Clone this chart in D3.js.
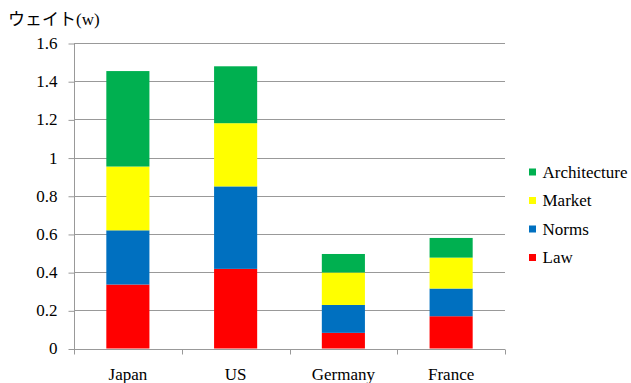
<!DOCTYPE html>
<html>
<head>
<meta charset="utf-8">
<script src="https://cdn.jsdelivr.net/npm/d3@7"></script>
<style>
  body { margin: 0; background: #fff; }
</style>
</head>
<body>
<div id="chart"></div>
<script>
// data
const countries = ["Japan", "US", "Germany", "France"];
const series = ["Law", "Norms", "Market", "Architecture"];
const law = [0.335, 0.417, 0.082, 0.169];
const norms = [0.284, 0.432, 0.146, 0.145];
const market = [0.334, 0.331, 0.170, 0.162];
const architecture = [0.500, 0.298, 0.097, 0.103];
const yTicks = [0, 0.2, 0.4, 0.6, 0.8, 1, 1.2, 1.4, 1.6];
const colors = {Law: "#ff0000", Norms: "#0070c0", Market: "#ffff00", Architecture: "#00b050"};

const FONT = '"Liberation Serif", "Noto Sans CJK JP", serif';
const FS = "17px";

const rows = countries.map((c, i) => ({
  country: c, Law: law[i], Norms: norms[i], Market: market[i], Architecture: architecture[i]
}));

const W = 631, H = 383;
const plot = {left: 74, right: 505, top: 43, bottom: 348.5};

const svg = d3.select("#chart").append("svg")
  .attr("width", W).attr("height", H);

const x = d3.scaleBand().domain(countries).range([plot.left, plot.right]);
const y = d3.scaleLinear().domain([0, 1.6]).range([plot.bottom, plot.top]);

// gridlines
svg.append("g").selectAll("line")
  .data(yTicks.filter(d => d > 0))
  .join("line")
    .attr("x1", plot.left).attr("x2", plot.right)
    .attr("y1", d => Math.round(y(d)) + 0.5).attr("y2", d => Math.round(y(d)) + 0.5)
    .attr("stroke", "#999").attr("stroke-width", 1);

// y axis
const yAxis = svg.append("g")
  .attr("transform", `translate(${plot.left + 0.5},0)`)
  .call(d3.axisLeft(y).tickValues(yTicks).tickSize(6).tickPadding(11).tickFormat(d3.format("")));
yAxis.attr("font-family", null);
yAxis.selectAll("line, path").attr("stroke", "#999");
yAxis.selectAll(".tick line").attr("transform", "translate(0,0.5)");
yAxis.select(".domain").attr("d", `M0,${plot.top}V${plot.bottom + 1}`);
yAxis.selectAll("text").style("font-family", FONT).style("font-size", FS).attr("fill", "#000");

// x axis
const xAxis = svg.append("g")
  .attr("transform", `translate(0,${Math.round(plot.bottom) + 0.5})`)
  .call(d3.axisBottom(x).tickSize(0).tickPadding(18));
xAxis.attr("font-family", null);
xAxis.select(".domain").attr("stroke", "#999").attr("d", `M${plot.left},0H${plot.right}`);
xAxis.selectAll("text").style("font-family", FONT).style("font-size", FS).attr("fill", "#000");
xAxis.append("g").selectAll("line")
  .data(countries.concat(["end"]))
  .join("line")
    .attr("x1", (d, i) => Math.round(plot.left + i * x.step()) + 0.5)
    .attr("x2", (d, i) => Math.round(plot.left + i * x.step()) + 0.5)
    .attr("y1", 0).attr("y2", 5)
    .attr("stroke", "#999");

// stacked bars
const stack = d3.stack().keys(series)(rows);
const barW = x.step() * 0.4;
svg.append("g").selectAll("g")
  .data(stack)
  .join("g")
    .attr("fill", d => colors[d.key])
  .selectAll("rect")
  .data(d => d)
  .join("rect")
    .attr("x", d => x(d.data.country) + x.bandwidth() / 2 - barW / 2)
    .attr("width", barW)
    .attr("y", d => y(d[1]))
    .attr("height", d => y(d[0]) - y(d[1]));

// legend
const legendItems = series.slice().reverse();
const legend = svg.append("g").attr("transform", "translate(529,172)");
const li = legend.selectAll("g")
  .data(legendItems)
  .join("g")
    .attr("transform", (d, i) => `translate(0,${i * 28.5})`);
li.append("rect")
  .attr("x", 0).attr("y", -3.5).attr("width", 7).attr("height", 7)
  .attr("fill", d => colors[d]);
li.append("text")
  .attr("x", 13.5).attr("y", 0).attr("dy", "0.33em")
  .style("font-family", FONT)
  .style("font-size", FS)
  .text(d => d);

// axis title
svg.append("text")
  .attr("x", 8).attr("y", 25)
  .style("font-family", FONT)
  .style("font-size", FS)
  .text("ウェイト(w)");
</script>
</body>
</html>
